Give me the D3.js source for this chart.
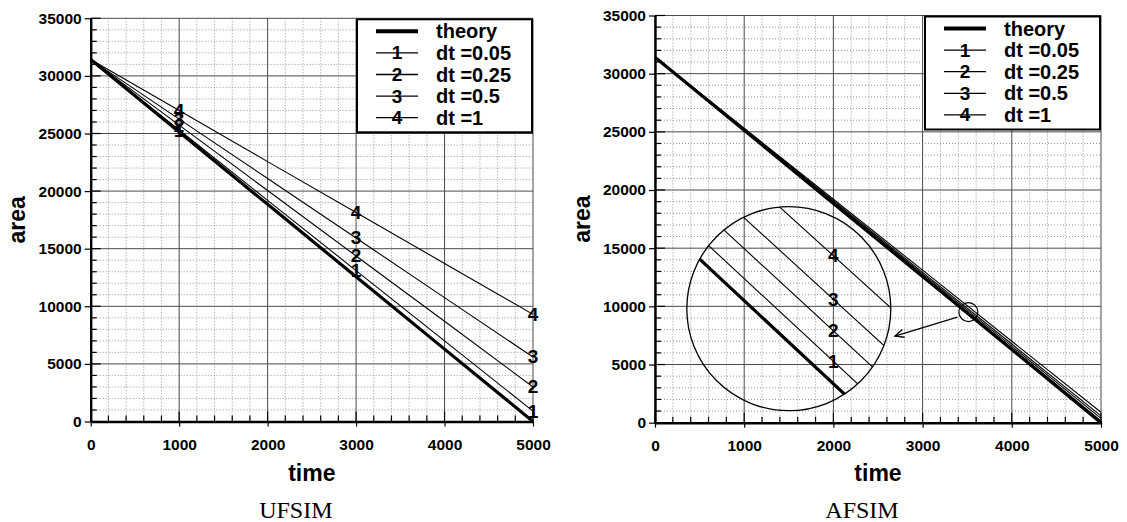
<!DOCTYPE html>
<html>
<head>
<meta charset="utf-8">
<script src="https://cdn.jsdelivr.net/npm/d3@7"></script>
<style>
body { margin: 0; background: #fff; }
text { font-family: "Liberation Sans", Arial, sans-serif; font-weight: bold; fill: #000; }
text.cap { font-family: "Liberation Serif", "Times New Roman", serif; font-weight: normal; }
</style>
</head>
<body>
<svg id="chart" width="1127" height="522"></svg>
<script>
// ---- data ----
var times = [0, 1000, 2000, 3000, 4000, 5000];
var seriesNames = ["theory", "dt =0.05", "dt =0.25", "dt =0.5", "dt =1"];
var symbols = ["", "1", "2", "3", "4"];
var xTicks = [0, 1000, 2000, 3000, 4000, 5000];
var yTicks = [0, 5000, 10000, 15000, 20000, 25000, 30000, 35000];
var xMinorStep = 200, yMinorStep = 1000;

// UFSIM
var ufTheory = [31416, 25133, 18850, 12566, 6283, 0];
var ufDt005  = [31416, 25300, 19200, 13100, 7000, 900];
var ufDt025  = [31416, 25730, 20050, 14370, 8700, 3000];
var ufDt05   = [31416, 26250, 21100, 15930, 10750, 5600];
var ufDt1    = [31416, 27000, 22560, 18150, 13720, 9300];
var ufLabelTimes = [1000, 3000, 5000];

// AFSIM
var afTheory = [31416, 25133, 18850, 12566, 6283, 0];
var afDt005  = [31416, 25160, 18910, 12660, 6410, 150];
var afDt025  = [31416, 25210, 19000, 12790, 6580, 370];
var afDt05   = [31416, 25250, 19090, 12920, 6760, 590];
var afDt1    = [31416, 25310, 19210, 13110, 7000, 900];

// magnified view on the AFSIM panel
var zoomFocus = [3513, 9510];      // spot that is magnified (time, area)
var zoomCenter = [1500, 9800];     // where the big circle sits (time, area)
var zoomLabelTime = 3546;
var arrowFrom = [3390, 9070], arrowTo = [2690, 7450];

var svg = d3.select("#chart");

function drawPanel(p) {
  var x = d3.scaleLinear().domain([0, 5000]).range([p.left, p.right]);
  var y = d3.scaleLinear().domain([0, 35000]).range([p.bottom, p.top]);
  var g = svg.append("g");

  var xMinor = d3.range(0, 5001, xMinorStep).filter(function(v) { return xTicks.indexOf(v) < 0; });
  var yMinor = d3.range(0, 35001, yMinorStep).filter(function(v) { return yTicks.indexOf(v) < 0; });

  // minor grid, dotted
  g.append("g").selectAll("line").data(xMinor).join("line")
    .attr("x1", function(d) { return x(d); }).attr("x2", function(d) { return x(d); })
    .attr("y1", p.top).attr("y2", p.bottom)
    .attr("stroke", "#7a7a7a").attr("stroke-width", 0.8).attr("stroke-dasharray", "1,2");
  g.append("g").selectAll("line").data(yMinor).join("line")
    .attr("y1", function(d) { return y(d); }).attr("y2", function(d) { return y(d); })
    .attr("x1", p.left).attr("x2", p.right)
    .attr("stroke", "#7a7a7a").attr("stroke-width", 0.8).attr("stroke-dasharray", "1,2");

  // major grid
  g.append("g").selectAll("line").data(xTicks).join("line")
    .attr("x1", function(d) { return x(d); }).attr("x2", function(d) { return x(d); })
    .attr("y1", p.top).attr("y2", p.bottom)
    .attr("stroke", "#4a4a4a").attr("stroke-width", 1);
  g.append("g").selectAll("line").data(yTicks).join("line")
    .attr("y1", function(d) { return y(d); }).attr("y2", function(d) { return y(d); })
    .attr("x1", p.left).attr("x2", p.right)
    .attr("stroke", "#4a4a4a").attr("stroke-width", 1);

  // inward ticks
  g.append("g").selectAll("line").data(d3.range(0, 5001, xMinorStep)).join("line")
    .attr("x1", function(d) { return x(d); }).attr("x2", function(d) { return x(d); })
    .attr("y1", p.bottom).attr("y2", function(d) { return p.bottom - (xTicks.indexOf(d) < 0 ? 6 : 10); })
    .attr("stroke", "#000").attr("stroke-width", 1.2);
  g.append("g").selectAll("line").data(d3.range(0, 35001, yMinorStep)).join("line")
    .attr("y1", function(d) { return y(d); }).attr("y2", function(d) { return y(d); })
    .attr("x1", p.left).attr("x2", function(d) { return p.left + (yTicks.indexOf(d) < 0 ? 6 : 10); })
    .attr("stroke", "#000").attr("stroke-width", 1.2);

  // series
  var line = d3.line().x(function(d, i) { return x(times[i]); }).y(function(d) { return y(d); });
  p.series.forEach(function(s, k) {
    g.append("path").datum(s).attr("d", line)
      .attr("fill", "none").attr("stroke", "#000")
      .attr("stroke-width", k === 0 ? 3.2 : 1.1);
  });

  // symbol numbers on the lines
  if (p.labelTimes) {
    p.series.forEach(function(s, k) {
      if (k === 0) return;
      var f = d3.scaleLinear().domain(times).range(s);
      g.append("g").selectAll("text").data(p.labelTimes).join("text")
        .attr("x", function(d) { return x(d); })
        .attr("y", function(d) { return y(f(d)); })
        .attr("text-anchor", "middle").attr("dominant-baseline", "central")
        .attr("font-size", 19).text(symbols[k]);
    });
  }

  // axes
  var ax = g.append("g").attr("transform", "translate(0," + p.bottom + ")")
    .call(d3.axisBottom(x).tickValues(xTicks).tickSize(5).tickSizeOuter(0).tickPadding(12).tickFormat(d3.format("d")));
  var ay = g.append("g").attr("transform", "translate(" + p.left + ",0)")
    .call(d3.axisLeft(y).tickValues(yTicks).tickSize(6).tickSizeOuter(0).tickPadding(3).tickFormat(d3.format("d")));
  [ax, ay].forEach(function(a) {
    a.attr("font-family", null).attr("font-size", 15.5);
    a.select(".domain").attr("stroke-width", 2.4);
    a.selectAll(".tick line").attr("stroke-width", 1.2);
    a.selectAll("text").attr("font-weight", "bold");
  });

  // axis titles and caption
  var cx = (p.left + p.right) / 2;
  g.append("text").attr("x", cx).attr("y", 481).attr("text-anchor", "middle")
    .attr("font-size", 23).text("time");
  g.append("text").attr("transform", "translate(" + (p.left - 65.5) + "," + ((p.top + p.bottom) / 2) + ") rotate(-90)")
    .attr("text-anchor", "middle").attr("font-size", 23).text("area");
  g.append("text").attr("class", "cap").attr("x", cx - 16).attr("y", 517.5)
    .attr("text-anchor", "middle").attr("font-size", 24).text(p.caption);

  // legend
  var lw = 176, lh = 113;
  var lg = g.append("g").attr("transform", "translate(" + (p.right - lw) + "," + p.top + ")");
  lg.append("rect").attr("x", 0).attr("y", 1).attr("width", lw - 1).attr("height", lh)
    .attr("fill", "#fff").attr("stroke", "#000").attr("stroke-width", 2);
  var rows = lg.selectAll("g.row").data(seriesNames).join("g").attr("class", "row")
    .attr("transform", function(d, i) { return "translate(0," + (13 + i * 21.6) + ")"; });
  rows.append("line").attr("x1", 19).attr("x2", 61).attr("y1", 0).attr("y2", 0)
    .attr("stroke", "#000").attr("stroke-width", function(d, i) { return i === 0 ? 4 : 1.3; });
  rows.append("text").attr("x", 40).attr("y", 0).attr("text-anchor", "middle")
    .attr("dominant-baseline", "central").attr("font-size", 19)
    .text(function(d, i) { return symbols[i]; });
  rows.append("text").attr("x", 79).attr("y", 7).attr("font-size", 20)
    .text(function(d) { return d; });

  return { x: x, y: y, g: g };
}

drawPanel({
  left: 90.7, right: 533, top: 18.3, bottom: 421.5,
  series: [ufTheory, ufDt005, ufDt025, ufDt05, ufDt1],
  labelTimes: ufLabelTimes, caption: "UFSIM"
});

var af = drawPanel({
  left: 655, right: 1101, top: 15.5, bottom: 422.7,
  series: [afTheory, afDt005, afDt025, afDt05, afDt1],
  labelTimes: null, caption: "AFSIM"
});

// magnified view
var cx = af.x(zoomCenter[0]), cy = af.y(zoomCenter[1]), R = 102;
var xz = d3.scaleLinear().domain([zoomFocus[0], zoomFocus[0] + 1]).range([cx, cx + 1.351]);
var yz = d3.scaleLinear().domain([zoomFocus[1], zoomFocus[1] + 1]).range([cy, cy - 0.2005]);

svg.append("defs").append("clipPath").attr("id", "lens")
  .append("circle").attr("cx", cx).attr("cy", cy).attr("r", R);

var lens = svg.append("g").attr("clip-path", "url(#lens)");
var zline = d3.line().x(function(d, i) { return xz(times[i]); }).y(function(d) { return yz(d); });
[afTheory, afDt005, afDt025, afDt05, afDt1].forEach(function(s, k) {
  lens.append("path").datum(s).attr("d", zline)
    .attr("fill", "none").attr("stroke", "#000").attr("stroke-width", k === 0 ? 3.2 : 1.1);
  if (k > 0) {
    var f = d3.scaleLinear().domain(times).range(s);
    lens.append("text").attr("x", xz(zoomLabelTime)).attr("y", yz(f(zoomLabelTime)))
      .attr("text-anchor", "middle").attr("dominant-baseline", "central")
      .attr("font-size", 19).text(symbols[k]);
  }
});
svg.append("circle").attr("cx", cx).attr("cy", cy).attr("r", R)
  .attr("fill", "none").attr("stroke", "#000").attr("stroke-width", 1.3);

// small circle on the spot and the arrow
svg.append("circle").attr("cx", af.x(zoomFocus[0])).attr("cy", af.y(zoomFocus[1])).attr("r", 9.5)
  .attr("fill", "none").attr("stroke", "#000").attr("stroke-width", 1.2);

svg.select("defs").append("marker").attr("id", "head")
  .attr("viewBox", "-10 -6 12 12").attr("refX", 0).attr("refY", 0)
  .attr("markerWidth", 12).attr("markerHeight", 12).attr("markerUnits", "userSpaceOnUse")
  .attr("orient", "auto")
  .append("path").attr("d", "M-9,-4 L0,0 L-9,4").attr("fill", "none")
  .attr("stroke", "#000").attr("stroke-width", 1.3);

svg.append("line")
  .attr("x1", af.x(arrowFrom[0])).attr("y1", af.y(arrowFrom[1]))
  .attr("x2", af.x(arrowTo[0])).attr("y2", af.y(arrowTo[1]))
  .attr("stroke", "#000").attr("stroke-width", 1.3).attr("marker-end", "url(#head)");
</script>
</body>
</html>
